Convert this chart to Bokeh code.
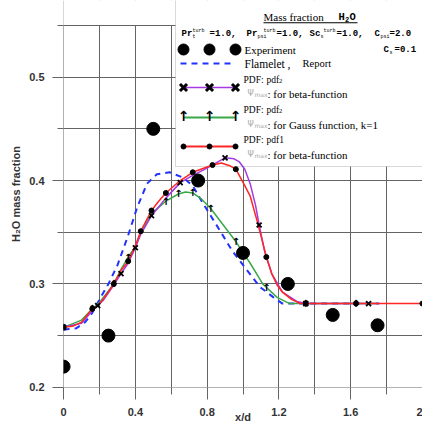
from bokeh.plotting import figure
from bokeh.models import FixedTicker, BoxAnnotation, Range1d
from bokeh.core.properties import value
from bokeh.embed import file_html
from bokeh.resources import INLINE

# ---------------- data ----------------
x_exp = [0.0, 0.25, 0.5, 0.75, 1.0, 1.25, 1.5, 1.75]
y_exp = [0.22, 0.25, 0.45, 0.40, 0.33, 0.30, 0.27, 0.26]

x_flamelet = [0.0, 0.07, 0.12, 0.16, 0.20, 0.25, 0.30, 0.36, 0.41, 0.465, 0.52, 0.59,
              0.665, 0.72, 0.77, 0.82, 0.87, 0.94, 1.01, 1.095, 1.17, 1.22, 1.76]
y_flamelet = [0.256, 0.257, 0.263, 0.272, 0.285, 0.300, 0.318, 0.347, 0.374, 0.397, 0.406, 0.408,
              0.403, 0.395, 0.380, 0.366, 0.352, 0.332, 0.316, 0.297, 0.287, 0.281, 0.281]

x_pdf2_beta = [0.0, 0.10, 0.16, 0.19, 0.22, 0.28, 0.32, 0.36, 0.40, 0.43, 0.49, 0.57, 0.65, 0.72,
               0.80, 0.86, 0.90, 0.95, 0.98, 1.01, 1.04, 1.07, 1.09, 1.12, 1.16, 1.22, 1.30, 1.35, 1.75]
y_pdf2_beta = [0.258, 0.262, 0.274, 0.279, 0.284, 0.299, 0.310, 0.320, 0.335, 0.348, 0.366, 0.383, 0.398, 0.405,
               0.412, 0.418, 0.422, 0.421, 0.418, 0.411, 0.397, 0.376, 0.357, 0.332, 0.310, 0.292, 0.283, 0.281, 0.281]
xm_pdf2_beta = [0.0, 0.19, 0.32, 0.40, 0.49, 0.65, 0.90, 1.09, 1.35, 1.70]
ym_pdf2_beta = [0.258, 0.279, 0.310, 0.335, 0.366, 0.398, 0.422, 0.357, 0.281, 0.281]

x_pdf2_gauss = [0.0, 0.10, 0.16, 0.20, 0.28, 0.32, 0.36, 0.40, 0.43, 0.49, 0.53, 0.57, 0.64, 0.68,
                0.72, 0.77, 0.82, 0.89, 0.96, 1.04, 1.11, 1.19, 1.26, 1.35, 1.75]
y_pdf2_gauss = [0.258, 0.265, 0.276, 0.282, 0.300, 0.314, 0.326, 0.336, 0.350, 0.368, 0.374, 0.380, 0.387, 0.389,
                0.388, 0.382, 0.373, 0.357, 0.341, 0.320, 0.300, 0.287, 0.281, 0.281, 0.281]
xm_pdf2_gauss = [0.0, 0.16, 0.28, 0.36, 0.57, 0.64, 0.72, 0.82, 0.96, 1.13, 1.35, 1.63]
ym_pdf2_gauss = [0.258, 0.276, 0.300, 0.326, 0.380, 0.387, 0.388, 0.373, 0.341, 0.297, 0.281, 0.281]

x_pdf1_beta = [0.0, 0.05, 0.10, 0.16, 0.19, 0.22, 0.28, 0.32, 0.36, 0.40, 0.43, 0.49, 0.53, 0.57, 0.65,
               0.72, 0.83, 0.88, 0.93, 0.96, 1.01, 1.04, 1.08, 1.11, 1.13, 1.16, 1.19, 1.22, 1.27, 1.32, 2.0]
y_pdf1_beta = [0.258, 0.259, 0.263, 0.276, 0.279, 0.285, 0.300, 0.313, 0.322, 0.337, 0.351, 0.371, 0.380, 0.388, 0.400,
               0.408, 0.415, 0.417, 0.414, 0.411, 0.395, 0.385, 0.360, 0.340, 0.326, 0.310, 0.299, 0.292, 0.285, 0.281, 0.281]
xm_pdf1_beta = [0.0, 0.16, 0.28, 0.36, 0.43, 0.49, 0.57, 0.72, 0.83, 0.96, 1.13, 1.35, 1.63, 2.0]
ym_pdf1_beta = [0.258, 0.276, 0.300, 0.322, 0.351, 0.371, 0.388, 0.408, 0.415, 0.411, 0.326, 0.281, 0.281, 0.281]

x_ticks = [0.0, 0.4, 0.8, 1.2, 1.6, 2.0]
x_tick_labels = ["0", "0.4", "0.8", "1.2", "1.6", "2"]
x_minor = [0.2, 0.6, 1.0, 1.4, 1.8]
y_ticks = [0.2, 0.3, 0.4, 0.5]
y_tick_labels = ["0.2", "0.3", "0.4", "0.5"]
y_minor = [0.25, 0.35, 0.45, 0.55]

# ---------------- figure geometry ----------------
W, H = 422, 427
FL, FB = 63, 40           # frame starts at x=63 px, 40 px below the frame
FW, FH = W - FL, H - FB   # frame: 359 x 387 px, top of frame = top of page
KY = 0.35 / 362.0         # data units per pixel (0.2 .. 0.55 spans 362 px)
XR = (-0.0005, 2.0005)
YR = (0.2 - 0.2 * KY, 0.55 + 25 * KY)

p = figure(width=W, height=H, x_range=Range1d(*XR), y_range=Range1d(*YR),
           output_backend="svg", toolbar_location=None,
           min_border_left=FL, min_border_right=0, min_border_top=0, min_border_bottom=FB)
p.outline_line_color = None
p.background_fill_color = "white"
p.border_fill_color = "white"


def X(px):
    return XR[0] + (px - FL) / FW * (XR[1] - XR[0])


def Y(py):
    return YR[1] - py / FH * (YR[1] - YR[0])


GRID = "#646464"
p.xgrid.ticker = FixedTicker(ticks=sorted(x_ticks + x_minor))
p.ygrid.ticker = FixedTicker(ticks=sorted(y_ticks + y_minor))
for g in (p.xgrid, p.ygrid):
    g.grid_line_color = GRID
    g.grid_line_width = 1

p.xaxis.ticker = FixedTicker(ticks=x_ticks, minor_ticks=x_minor)
p.xaxis.major_label_overrides = dict(zip(x_ticks, x_tick_labels))
p.xaxis.major_tick_out = 12
p.xaxis.minor_tick_out = 7
p.xaxis.major_label_standoff = 8
p.xaxis.axis_label = "x/d"
p.xaxis.axis_label_standoff = -8
p.yaxis.ticker = FixedTicker(ticks=y_ticks, minor_ticks=y_minor)
p.yaxis.major_label_overrides = dict(zip(y_ticks, y_tick_labels))
p.yaxis.major_tick_out = 11
p.yaxis.minor_tick_out = 6
p.yaxis.major_label_standoff = 8
p.yaxis.axis_label = "H₂O mass fraction"
p.yaxis.axis_label_standoff = 4
for ax in (p.xaxis, p.yaxis):
    ax.axis_line_color = None
    ax.major_tick_in = 0
    ax.minor_tick_in = 0
    ax.major_tick_line_color = GRID
    ax.minor_tick_line_color = GRID
    ax.major_label_text_font = "Liberation Sans"
    ax.major_label_text_font_style = "bold"
    ax.major_label_text_font_size = "11px"
    ax.major_label_text_color = "#333333"
    ax.axis_label_text_font = "Liberation Sans"
    ax.axis_label_text_font_style = "bold"
    ax.axis_label_text_font_size = "11px"
    ax.axis_label_text_color = "#333333"

# white cover for the grid above the top grid line (left of the legend)
p.add_layout(BoxAnnotation(left=XR[0] - 1, right=X(175), top=YR[1] + 1, bottom=Y(24.4),
                           fill_color="white", fill_alpha=1.0, line_color=None, level="underlay"))
# legend box (under the curves)
p.add_layout(BoxAnnotation(left=X(175), right=X(440), top=Y(-5), bottom=Y(166),
                           fill_color="white", fill_alpha=1.0, line_color="#808080",
                           line_width=1, level="underlay"))

# ---------------- curves ----------------
BLUE, GREEN, PURPLE, RED = "#2233ff", "#3aa84a", "#a33be0", "#ff2626"
p.line(x_flamelet, y_flamelet, line_color=BLUE, line_width=2, line_dash="6 5")
p.line(x_pdf2_gauss, y_pdf2_gauss, line_color=GREEN, line_width=1.5)
p.line(x_pdf2_beta, y_pdf2_beta, line_color=PURPLE, line_width=1.5)
p.line(x_pdf1_beta, y_pdf1_beta, line_color=RED, line_width=1.5)

p.text(xm_pdf2_gauss, ym_pdf2_gauss, text=value("↑"), text_font=value("DejaVu Sans"),
       text_font_size="10px", text_font_style="bold", text_color="black",
       text_align="center", text_baseline="middle")
p.scatter(xm_pdf2_beta, ym_pdf2_beta, marker="x", size=7, line_color="black", line_width=1.8)
p.scatter(xm_pdf1_beta, ym_pdf1_beta, marker="circle", size=5, fill_color="black", line_color="black")
p.scatter(x_exp, y_exp, marker="circle", size=13, fill_color="black", line_color="black")


# ---------------- legend contents ----------------
def lab(px, py, text, size=11, font="Liberation Serif", style="normal", color="black"):
    p.text([X(px)], [Y(py)], text=value(text), text_font=value(font),
           text_font_size=f"{size}px", text_font_style=style, text_color=color,
           text_align="left", text_baseline="middle")


MONO = "Liberation Mono"
lab(263, 16, "Mass fraction", size=11)
lab(338, 16, "H", size=10.5, font=MONO, style="bold")
lab(344.5, 18.5, "2", size=7, font=MONO, style="bold")
lab(349, 16, "O", size=10.5, font=MONO, style="bold")
p.add_layout(BoxAnnotation(left=X(263), right=X(357), top=Y(21.8), bottom=Y(22.8),
                           fill_color="black", fill_alpha=1.0, line_color=None, level="annotation"))

pieces = [(181, "Pr", "n"), (192, "t", "sub"), (192, "turb", "sup"), (209, "=1.0,", "n"),
          (246, "Pr", "n"), (257, "psi", "sub"), (263, "turb", "sup"), (276, "=1.0,", "n"),
          (309, "Sc", "n"), (320, "s", "sub"), (323, "turb", "sup"), (336, "=1.0,", "n"),
          (374, "C", "n"), (380, "psi", "sub"), (389, "=2.0", "n"),
          (383, "C", "n2"), (389, "s", "sub2"), (394, "=0.1", "n2")]
for px, t, kind in pieces:
    if kind == "n":
        lab(px, 33, t, size=9, font=MONO, style="bold")
    elif kind == "sub":
        lab(px, 36, t, size=5, font=MONO)
    elif kind == "sup":
        lab(px, 30, t, size=5, font=MONO)
    elif kind == "n2":
        lab(px, 49, t, size=9, font=MONO, style="bold")
    elif kind == "sub2":
        lab(px, 52, t, size=5, font=MONO)

leg_x = [X(183), X(209), X(235)]
# Experiment
p.scatter(leg_x, [Y(49)] * 3, marker="circle", size=11, fill_color="black", line_color="black")
lab(244, 49, "Experiment", size=11)
# Flamelet
p.line([X(180), X(234)], [Y(63), Y(63)], line_color=BLUE, line_width=2, line_dash="6 5")
lab(244, 63, "Flamelet ,", size=11.5)
lab(302, 63, "Report", size=10.5)


def psi_row(py, text):
    lab(247, py, "Ψ", size=8, font="DejaVu Sans", color="#a8a8a8")
    lab(254, py + 1, "max", size=6, font="DejaVu Sans", color="#a8a8a8")
    lab(267, py, text, size=11)


def pdf_row(py, num, sub):
    lab(243, py, "PDF:", size=9.5)
    if sub:
        lab(266, py, "pdf", size=9.5)
        lab(278.5, py + 1.5, num, size=6.5)
    else:
        lab(266, py, "pdf" + num, size=9.5)


# pdf2 beta
p.line([X(183), X(235)], [Y(87), Y(87)], line_color=PURPLE, line_width=1.5)
p.scatter(leg_x, [Y(87)] * 3, marker="x", size=10, line_color="black", line_width=3)
pdf_row(79, "2", True)
psi_row(93, ": for beta-function")
# pdf2 gauss
p.line([X(183), X(235)], [Y(117), Y(117)], line_color=GREEN, line_width=2)
p.text(leg_x, [Y(115)] * 3, text=value("↑"), text_font=value("DejaVu Sans"),
       text_font_size="14px", text_font_style="bold", text_color="black",
       text_align="center", text_baseline="middle")
pdf_row(109, "2", True)
psi_row(124, ": for Gauss function, k=1")
# pdf1 beta
p.line([X(183), X(235)], [Y(146), Y(146)], line_color=RED, line_width=2)
p.scatter(leg_x, [Y(146)] * 3, marker="circle", size=5, fill_color="black", line_color="black")
pdf_row(139, "1", False)
psi_row(154, ": for beta-function")

open("out.html", "w").write(file_html(p, INLINE))
